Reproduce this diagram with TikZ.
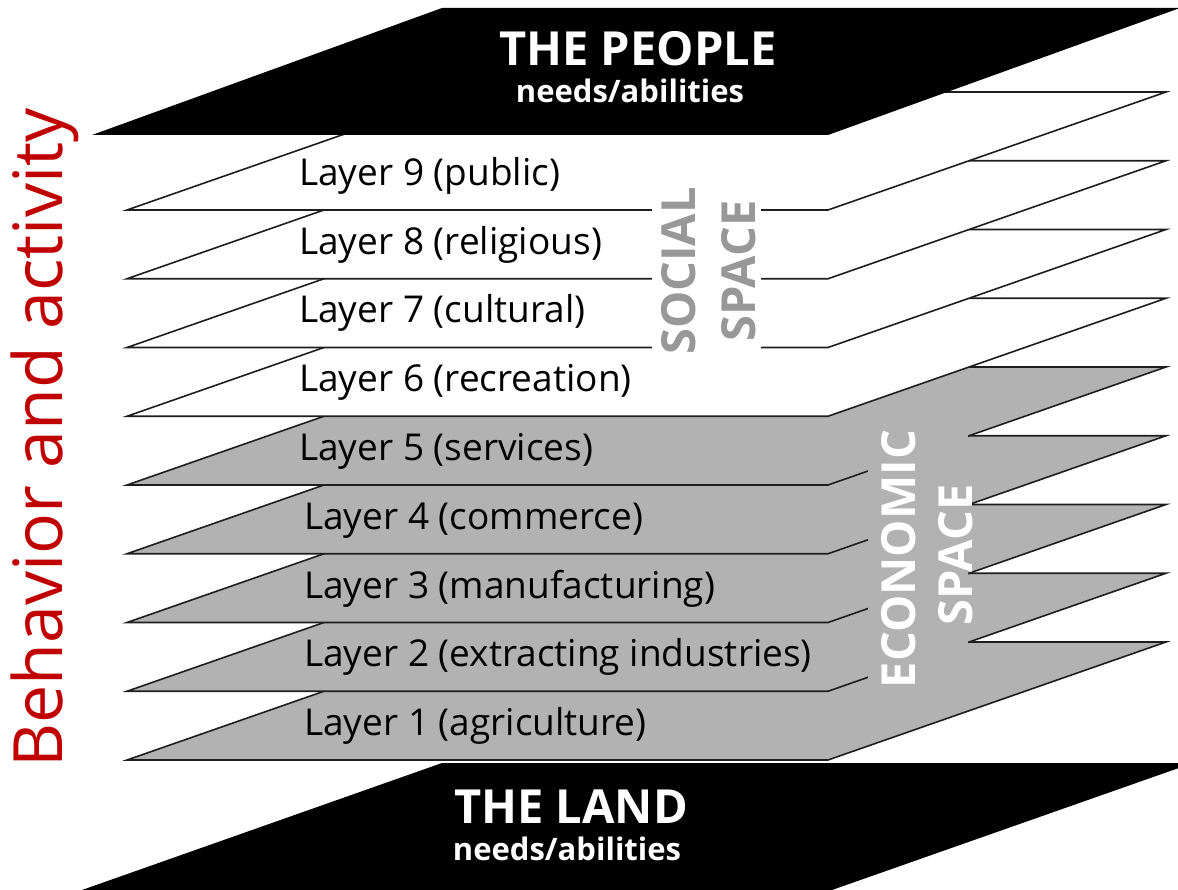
\documentclass[tikz,border=0pt]{standalone}
\usepackage{fontspec}
\setmainfont{Open Sans}
\definecolor{layergray}{RGB}{178,178,178}
\definecolor{socialgray}{RGB}{152,152,152}
\definecolor{behred}{RGB}{192,0,0}
\definecolor{edge}{RGB}{30,30,30}
\tikzset{
  layeredge/.style={draw=edge, line width=1.6pt, line join=miter},
  layerlabel/.style={anchor=base west, inner sep=0pt, font=\fontsize{37}{44}\selectfont},
  titlelabel/.style={anchor=base, inner sep=0pt, text=white, font=\bfseries\fontsize{47}{56}\selectfont},
  sublabel/.style={anchor=base, inner sep=0pt, text=white, font=\bfseries\fontsize{31}{37}\selectfont},
  spacelabel/.style={anchor=base, inner sep=0pt, rotate=90, font=\bfseries\fontsize{47}{56}\selectfont},
}
\begin{document}
\begin{tikzpicture}[x=1pt,y=-1pt]
\useasboundingbox (0,0) rectangle (1178,890);
\clip (0,0) rectangle (1178,890);
% THE LAND
\fill[black] (82,890) -- (832,890) -- (1193,763) -- (442,763) -- cycle;
% layers
\foreach \i in {1,...,9}{
  \pgfmathsetmacro\b{760-68.75*(\i-1)}
  \pgfmathsetmacro\t{\b-118}
  \ifnum\i<6
    \def\lfill{layergray}
  \else
    \def\lfill{white}
  \fi
  \path[layeredge, fill=\lfill] (127,\b) -- (828,\b) -- (1166,\t) -- (465,\t) -- cycle;
}
% boxes behind the space labels
\fill[white] (652,186) rectangle (761,357);
\fill[layergray] (868,428) rectangle (968,686);
% THE PEOPLE
\fill[black] (92,135) -- (828,135) -- (1180,8) -- (442,8) -- cycle;
% titles
\node[titlelabel] (people) at (638,66) {THE PEOPLE};
\node[sublabel] (peoplesub) at (630,103) {needs/abilities};
\node[titlelabel] (land) at (571,823) {THE LAND};
\node[sublabel] (landsub) at (567,860) {needs/abilities};
% layer labels
\node[layerlabel] (l9) at (299,185.5) {Layer 9 (public)};
\node[layerlabel] (l8) at (299,254.25) {Layer 8 (religious)};
\node[layerlabel] (l7) at (299,323) {Layer 7 (cultural)};
\node[layerlabel] (l6) at (299,391.75) {Layer 6 (recreation)};
\node[layerlabel] (l5) at (299,460.5) {Layer 5 (services)};
\node[layerlabel] (l4) at (304,529.25) {Layer 4 (commerce)};
\node[layerlabel] (l3) at (304,598) {Layer 3 (manufacturing)};
\node[layerlabel] (l2) at (304,666.75) {Layer 2 (extracting industries)};
\node[layerlabel] (l1) at (304,735.5) {Layer 1 (agriculture)};
% space labels
\node[spacelabel, text=socialgray] (social1) at (695,271) {SOCIAL};
\node[spacelabel, text=socialgray] (social2) at (755,271) {SPACE};
\node[spacelabel, text=white] (econ1) at (915,559) {ECONOMIC};
\node[spacelabel, text=white] (econ2) at (972,555) {SPACE};
% side label
\node[anchor=base, inner sep=0pt, rotate=90, text=behred, font=\fontsize{68}{80}\selectfont] (behavior) at (62,438) {Behavior and activity};
\end{tikzpicture}
\end{document}
